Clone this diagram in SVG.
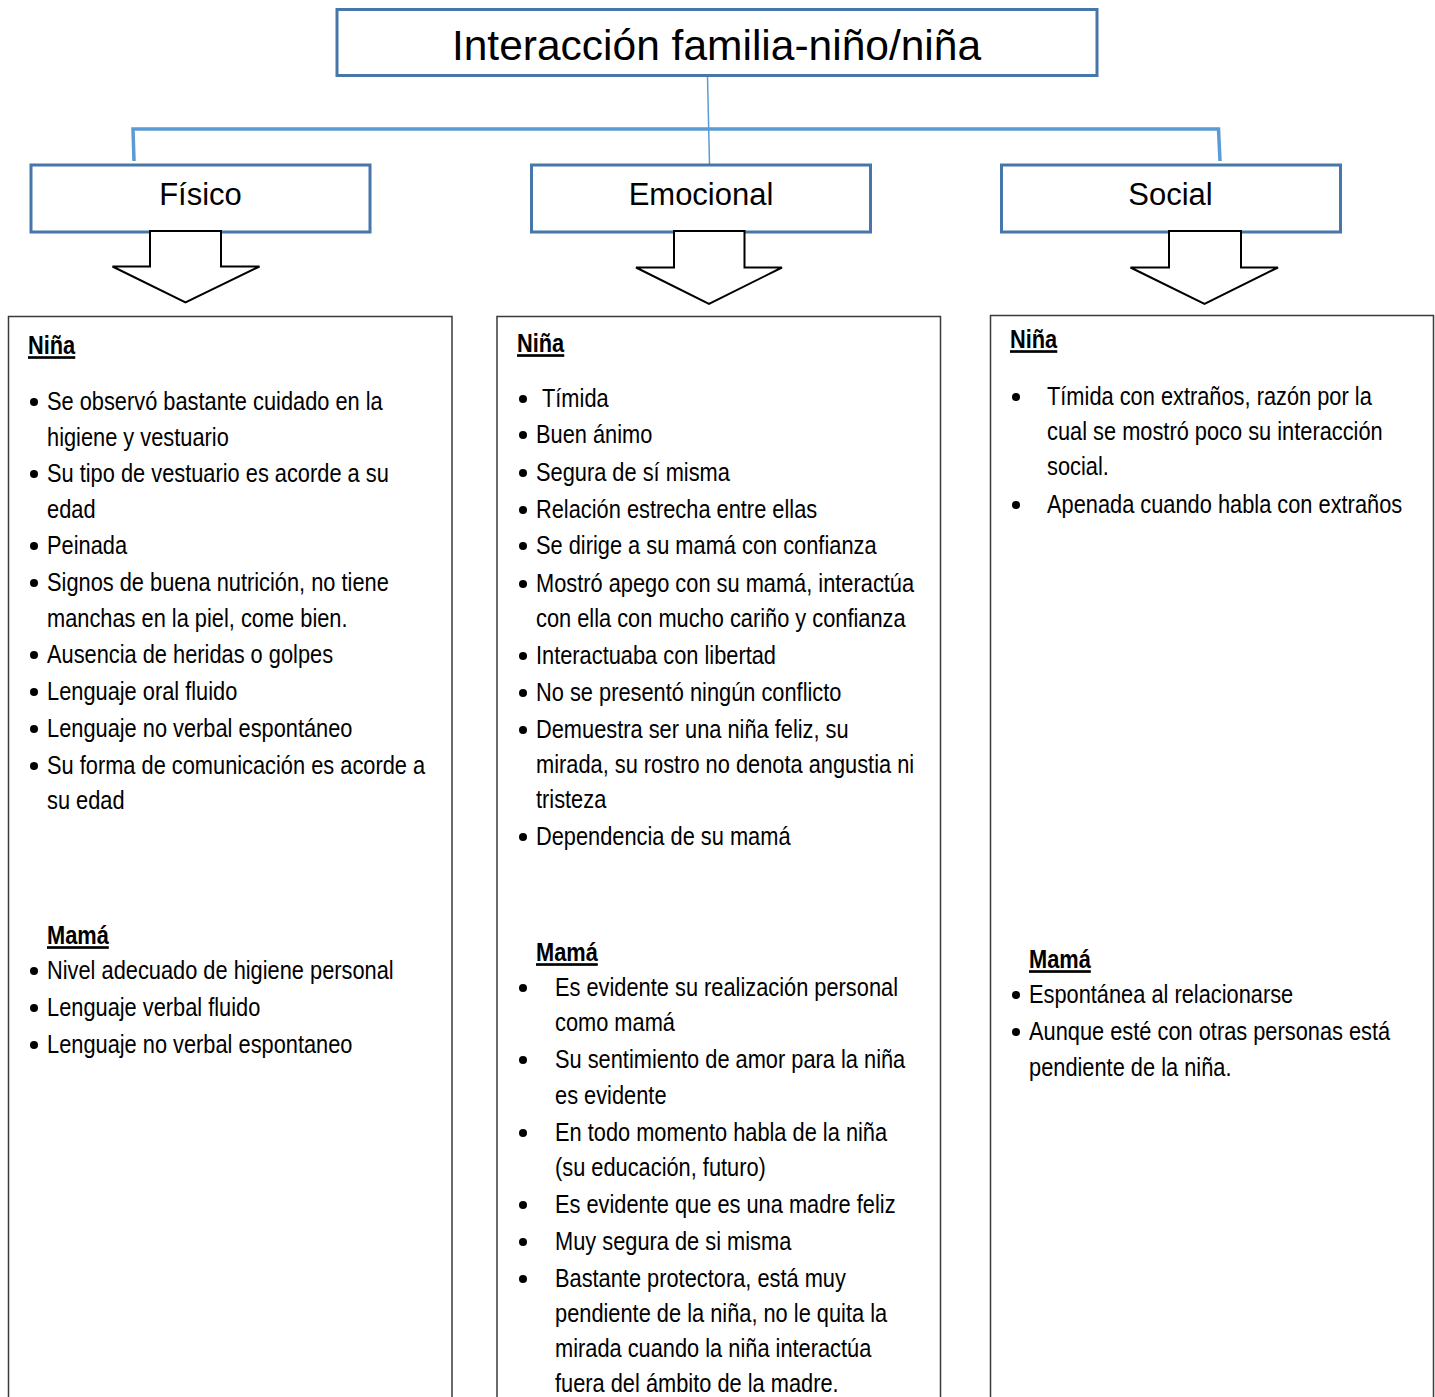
<svg xmlns="http://www.w3.org/2000/svg" width="1435" height="1397" viewBox="0 0 1435 1397">
<style>
.hdr{fill:#fff;stroke:#4676aa;stroke-width:3}
.ttl{font-family:"Liberation Sans",Arial,sans-serif;fill:#000;text-anchor:middle}
.box{fill:#fff;stroke:#3a3a3a;stroke-width:1.5}
.t{font-family:"Liberation Sans",Arial,sans-serif;font-size:26.6px;fill:#000}
.h{font-weight:bold;text-decoration:underline}
.b{fill:#000}
.con{fill:none;stroke:#5b9bd5}
.arr{fill:#fff;stroke:#000;stroke-width:2;stroke-linejoin:miter}
</style>
<rect width="1435" height="1397" fill="#fff"/>
<g id="connectors">
<line class="con" x1="707.5" y1="76" x2="709.5" y2="164" stroke-width="1.5"/>
<polyline class="con" points="134,161 133,129 1218.5,129 1220,161" stroke-width="3.5"/>
</g>
<g id="title">
<rect class="hdr" x="337" y="9.5" width="760" height="66"/>
<text class="ttl" x="716.5" y="60" font-size="42.5">Interacción familia-niño/niña</text>
</g>
<g id="fisico">
<rect class="hdr" x="31" y="165" width="339" height="67"/>
<text class="ttl" x="200.5" y="205" font-size="31">Físico</text>
</g>
<g id="emocional">
<rect class="hdr" x="531.5" y="165" width="339" height="67"/>
<text class="ttl" x="701" y="205" font-size="31">Emocional</text>
</g>
<g id="social">
<rect class="hdr" x="1001.5" y="165" width="339" height="67"/>
<text class="ttl" x="1170.5" y="205" font-size="31">Social</text>
</g>
<g id="arrows">
<polygon class="arr" points="150,231 221,231 221,266.5 259.5,266.5 185.5,302.5 112.5,266.5 150,266.5"/>
<polygon class="arr" points="674,231 744.5,231 744.5,267.5 782,267.5 709,304 636,267.5 674,267.5"/>
<polygon class="arr" points="1169,231 1241,231 1241,267.5 1278,267.5 1204.5,304 1130.5,267.5 1169,267.5"/>
</g>
<g id="fisico-contenido">
<rect class="box" x="8.5" y="316.5" width="443.5" height="1100"/>
<text class="t h" transform="translate(28,354) scale(0.82,1)" font-size="29">Niña</text>
<g class="b">
<circle cx="34" cy="402" r="4"/><circle cx="34" cy="474" r="4"/><circle cx="34" cy="546" r="4"/><circle cx="34" cy="583" r="4"/><circle cx="34" cy="655" r="4"/><circle cx="34" cy="692" r="4"/><circle cx="34" cy="729" r="4"/><circle cx="34" cy="766" r="4"/>
<circle cx="34" cy="971" r="4"/><circle cx="34" cy="1008" r="4"/><circle cx="34" cy="1045" r="4"/>
</g>
<text class="t" transform="translate(47,410) scale(0.82,1)">Se observó bastante cuidado en la</text>
<text class="t" transform="translate(47,446) scale(0.82,1)">higiene y vestuario</text>
<text class="t" transform="translate(47,482) scale(0.82,1)">Su tipo de vestuario es acorde a su</text>
<text class="t" transform="translate(47,518) scale(0.82,1)">edad</text>
<text class="t" transform="translate(47,554) scale(0.82,1)">Peinada</text>
<text class="t" transform="translate(47,591) scale(0.82,1)">Signos de buena nutrición, no tiene</text>
<text class="t" transform="translate(47,627) scale(0.82,1)">manchas en la piel, come bien.</text>
<text class="t" transform="translate(47,663) scale(0.82,1)">Ausencia de heridas o golpes</text>
<text class="t" transform="translate(47,700) scale(0.82,1)">Lenguaje oral fluido</text>
<text class="t" transform="translate(47,737) scale(0.82,1)">Lenguaje no verbal espontáneo</text>
<text class="t" transform="translate(47,774) scale(0.82,1)">Su forma de comunicación es acorde a</text>
<text class="t" transform="translate(47,809) scale(0.82,1)">su edad</text>
<text class="t h" transform="translate(47,944) scale(0.82,1)">Mamá</text>
<text class="t" transform="translate(47,979) scale(0.82,1)">Nivel adecuado de higiene personal</text>
<text class="t" transform="translate(47,1016) scale(0.82,1)">Lenguaje verbal fluido</text>
<text class="t" transform="translate(47,1053) scale(0.82,1)">Lenguaje no verbal espontaneo</text>
</g>
<g id="emocional-contenido">
<rect class="box" x="497" y="316.5" width="443.5" height="1100"/>
<text class="t h" transform="translate(517,352) scale(0.82,1)">Niña</text>
<g class="b">
<circle cx="523" cy="399" r="4"/><circle cx="523" cy="435" r="4"/><circle cx="523" cy="473" r="4"/><circle cx="523" cy="510" r="4"/><circle cx="523" cy="546" r="4"/><circle cx="523" cy="584" r="4"/><circle cx="523" cy="656" r="4"/><circle cx="523" cy="693" r="4"/><circle cx="523" cy="730" r="4"/><circle cx="523" cy="837" r="4"/>
<circle cx="523" cy="988" r="4"/><circle cx="523" cy="1060" r="4"/><circle cx="523" cy="1133" r="4"/><circle cx="523" cy="1205" r="4"/><circle cx="523" cy="1242" r="4"/><circle cx="523" cy="1279" r="4"/>
</g>
<text class="t" transform="translate(542,407) scale(0.82,1)">Tímida</text>
<text class="t" transform="translate(536,443) scale(0.82,1)">Buen ánimo</text>
<text class="t" transform="translate(536,481) scale(0.82,1)">Segura de sí misma</text>
<text class="t" transform="translate(536,518) scale(0.82,1)">Relación estrecha entre ellas</text>
<text class="t" transform="translate(536,554) scale(0.82,1)">Se dirige a su mamá con confianza</text>
<text class="t" transform="translate(536,592) scale(0.82,1)">Mostró apego con su mamá, interactúa</text>
<text class="t" transform="translate(536,627) scale(0.82,1)">con ella con mucho cariño y confianza</text>
<text class="t" transform="translate(536,664) scale(0.82,1)">Interactuaba con libertad</text>
<text class="t" transform="translate(536,701) scale(0.82,1)">No se presentó ningún conflicto</text>
<text class="t" transform="translate(536,738) scale(0.82,1)">Demuestra ser una niña feliz, su</text>
<text class="t" transform="translate(536,773) scale(0.82,1)">mirada, su rostro no denota angustia ni</text>
<text class="t" transform="translate(536,808) scale(0.82,1)">tristeza</text>
<text class="t" transform="translate(536,845) scale(0.82,1)">Dependencia de su mamá</text>
<text class="t h" transform="translate(536,961) scale(0.82,1)">Mamá</text>
<text class="t" transform="translate(555,996) scale(0.82,1)">Es evidente su realización personal</text>
<text class="t" transform="translate(555,1031) scale(0.82,1)">como mamá</text>
<text class="t" transform="translate(555,1068) scale(0.82,1)">Su sentimiento de amor para la niña</text>
<text class="t" transform="translate(555,1104) scale(0.82,1)">es evidente</text>
<text class="t" transform="translate(555,1141) scale(0.82,1)">En todo momento habla de la niña</text>
<text class="t" transform="translate(555,1176) scale(0.82,1)">(su educación, futuro)</text>
<text class="t" transform="translate(555,1213) scale(0.82,1)">Es evidente que es una madre feliz</text>
<text class="t" transform="translate(555,1250) scale(0.82,1)">Muy segura de si misma</text>
<text class="t" transform="translate(555,1287) scale(0.82,1)">Bastante protectora, está muy</text>
<text class="t" transform="translate(555,1322) scale(0.82,1)">pendiente de la niña, no le quita la</text>
<text class="t" transform="translate(555,1357) scale(0.82,1)">mirada cuando la niña interactúa</text>
<text class="t" transform="translate(555,1392) scale(0.82,1)">fuera del ámbito de la madre.</text>
</g>
<g id="social-contenido">
<rect class="box" x="990.5" y="315.5" width="443" height="1100"/>
<text class="t h" transform="translate(1010,348) scale(0.82,1)">Niña</text>
<g class="b">
<circle cx="1016" cy="397" r="4"/><circle cx="1016" cy="505" r="4"/>
<circle cx="1016" cy="995" r="4"/><circle cx="1016" cy="1032" r="4"/>
</g>
<text class="t" transform="translate(1047,405) scale(0.82,1)">Tímida con extraños, razón por la</text>
<text class="t" transform="translate(1047,440) scale(0.82,1)">cual se mostró poco su interacción</text>
<text class="t" transform="translate(1047,475) scale(0.82,1)">social.</text>
<text class="t" transform="translate(1047,513) scale(0.82,1)">Apenada cuando habla con extraños</text>
<text class="t h" transform="translate(1029,968) scale(0.82,1)">Mamá</text>
<text class="t" transform="translate(1029,1003) scale(0.82,1)">Espontánea al relacionarse</text>
<text class="t" transform="translate(1029,1040) scale(0.82,1)">Aunque esté con otras personas está</text>
<text class="t" transform="translate(1029,1076) scale(0.82,1)">pendiente de la niña.</text>
</g>
</svg>
